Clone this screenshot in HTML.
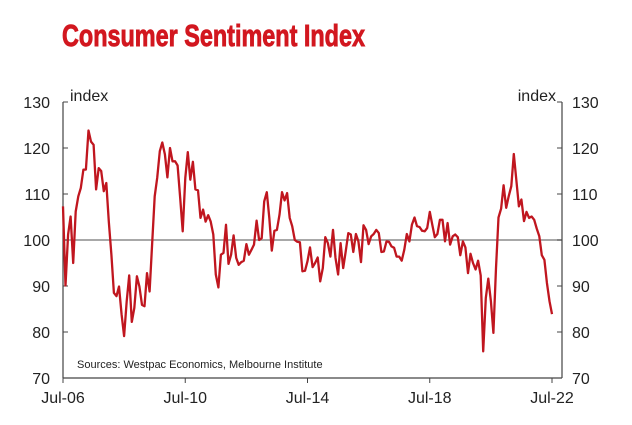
<!DOCTYPE html>
<html><head><meta charset="utf-8"><style>
body{margin:0;background:#fff;}
svg{display:block;font-family:"Liberation Sans",sans-serif;}
</style></head><body>
<svg width="632" height="425" viewBox="0 0 632 425">
<text x="62" y="46" font-family="'Liberation Sans Narrow','Liberation Sans',sans-serif" font-weight="bold" font-size="31" fill="#d2171f" stroke="#d2171f" stroke-width="0.9" textLength="303" lengthAdjust="spacingAndGlyphs">Consumer Sentiment Index</text>
<g id="axes"></g>
<g id="plot"></g>
</svg>
<script>
const yTicks=[70,80,90,100,110,120,130];
const xTickLabels=["Jul-06","Jul-10","Jul-14","Jul-18","Jul-22"];
const xTickMonths=[0,48,96,144,192];
const sentiment=[107.3,90.1,101.2,105.1,95,106.2,109.5,111.3,115.3,115.3,123.8,121.4,120.7,111,115.6,115,110.6,112.4,104,96.8,88.5,87.8,89.9,83.8,79.1,86.7,92.3,82.2,85.2,92.1,89.9,85.9,85.6,92.8,88.8,99,109.5,113.5,119.3,121.2,118.6,113.6,120,117.1,117.1,116.2,109.1,101.9,113.5,119.1,113.1,117,111,110.8,104.8,106.6,104,105.4,104,101.2,92.5,89.7,96.8,97.2,103.3,94.8,96.8,101,96.1,94.6,95.2,95.5,99.1,96.8,97.9,99,104.2,100,100.4,108.4,110.4,104.8,97.7,102,102.2,105.5,110.4,108.6,110.2,104.8,103,100,99.6,99.5,93.2,93.3,95.4,98.4,94.1,95,96.2,91,93.9,100.6,99.3,96.4,102.2,96.1,92.5,99.3,93.9,97.5,101.5,101.2,97.4,101.3,99.7,95.2,103.2,102.2,99.1,100.8,101.3,102.2,101.5,97.4,97.5,99.7,99.6,98.6,98.3,96.4,96.4,95.5,97.9,101.3,99.7,103.3,104.9,103,102.8,102,101.9,102.6,106.1,103.3,100.6,101.3,104.4,104.4,99.7,103.7,99,100.8,101.2,100.6,96.7,99.7,98.4,92.8,97,95,93.6,95.5,92.3,75.8,87.4,91.6,86.7,79.8,93.9,104.9,106.8,111.9,107,109.5,111.7,118.7,113.1,107.3,108.8,104.1,106.1,104.8,105.1,104.4,102.5,100.8,96.7,95.7,90.7,86.7,83.9];
const NS="http://www.w3.org/2000/svg";
const L=63,R=562,T=102,B=378;
const X=m=>L+m*(489/192);
const Y=v=>B-(v-70)*(B-T)/60;
function mk(tag,attrs,parent,txt){const e=document.createElementNS(NS,tag);for(const k in attrs)e.setAttribute(k,attrs[k]);if(txt!==undefined)e.textContent=txt;parent.appendChild(e);return e;}
const ax=document.getElementById('axes'),pl=document.getElementById('plot');
let e;
e=mk('line',{x1:L,y1:Y(100),x2:R,y2:Y(100),stroke:'#8c8c8c','stroke-width':1.5},ax);


e=mk('line',{x1:L,y1:T,x2:L,y2:B,stroke:'#444','stroke-width':1.2},ax);


e=mk('line',{x1:R,y1:T,x2:R,y2:B,stroke:'#444','stroke-width':1.2},ax);


e=mk('line',{x1:L,y1:B,x2:R,y2:B,stroke:'#444','stroke-width':1.2},ax);


yTicks.forEach(v=>{
 const y=Y(v);
 mk('line',{x1:L,y1:y,x2:L+5,y2:y,stroke:'#444'},ax);
 mk('line',{x1:R-5,y1:y,x2:R,y2:y,stroke:'#444'},ax);
 e=mk('text',{x:50,y:y+6,'text-anchor':'end','font-size':16,fill:'#222'},ax,String(v));
 
 
 e=mk('text',{x:572,y:y+6,'font-size':16,fill:'#222'},ax,String(v));
 
 
});
xTickMonths.forEach((m,i)=>{
 const x=X(m);
 mk('line',{x1:x,y1:B,x2:x,y2:B+5,stroke:'#444'},ax);
 e=mk('text',{x:x,y:403,'text-anchor':'middle','font-size':16,fill:'#222'},ax,xTickLabels[i]);
 
 
});
e=mk('text',{x:70,y:101,'font-size':16,fill:'#222'},ax,'index');


e=mk('text',{x:556,y:101,'text-anchor':'end','font-size':16,fill:'#222'},ax,'index');


e=mk('text',{x:77,y:368,'font-size':11,fill:'#222'},ax,'Sources: Westpac Economics, Melbourne Institute');


const pts=sentiment.map((v,i)=>X(i).toFixed(1)+','+Y(v).toFixed(1)).join(' ');
e=mk('polyline',{points:pts,fill:'none',stroke:'#c0161f','stroke-width':2.3,'stroke-linejoin':'round'},pl);


</script>
</body></html>
